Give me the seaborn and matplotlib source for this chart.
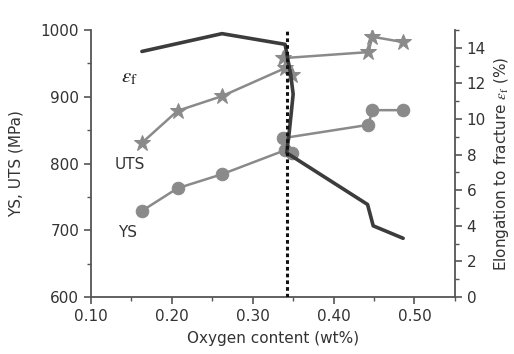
import matplotlib
matplotlib.use("Agg")
import matplotlib.pyplot as plt
import seaborn as sns
import pandas as pd
from matplotlib.ticker import MultipleLocator, FormatStrFormatter

# Data
uts_x = [0.163, 0.207, 0.262, 0.340, 0.349, 0.338, 0.443, 0.448, 0.486]
uts_y = [831, 879, 901, 943, 933, 958, 967, 990, 982]
ys_x = [0.163, 0.207, 0.262, 0.340, 0.349, 0.337, 0.443, 0.448, 0.486]
ys_y = [729, 763, 784, 820, 816, 838, 858, 880, 880]
ef_x = [0.163, 0.262, 0.340, 0.347, 0.350, 0.348, 0.345, 0.342, 0.442, 0.449, 0.486]
ef_y = [13.8, 14.8, 14.2, 12.5, 11.4, 10.5, 9.2, 8.1, 5.2, 4.0, 3.3]
critical_o = 0.342

sns.set_style("ticks")
plt.rcParams['font.family'] = ['DejaVu Sans']
plt.rcParams['mathtext.fontset'] = 'stix'

fig = plt.figure(figsize=(5.14, 3.54), dpi=100)
ax = fig.add_axes([0.177, 0.161, 0.708, 0.754])

gray = "#8a8a8a"
dark = "#3c3c3c"
axcol = "#555555"

uts_df = pd.DataFrame({"x": uts_x, "y": uts_y})
ys_df = pd.DataFrame({"x": ys_x, "y": ys_y})
ef_df = pd.DataFrame({"x": ef_x, "y": ef_y})

sns.lineplot(data=uts_df, x="x", y="y", sort=False, ax=ax, color=gray, lw=1.8,
             marker="*", markersize=12, markeredgecolor=gray, markerfacecolor=gray)
sns.lineplot(data=ys_df, x="x", y="y", sort=False, ax=ax, color=gray, lw=1.8,
             marker="o", markersize=9, markeredgecolor=gray, markerfacecolor=gray)

ax.set_xlim(0.10, 0.55)
ax.set_ylim(600, 1000)
ax.xaxis.set_major_locator(MultipleLocator(0.10))
ax.xaxis.set_minor_locator(MultipleLocator(0.05))
ax.xaxis.set_major_formatter(FormatStrFormatter("%.2f"))
ax.yaxis.set_major_locator(MultipleLocator(100))
ax.yaxis.set_minor_locator(MultipleLocator(50))
ax.set_xlabel("Oxygen content (wt%)", fontsize=11, color="#333333", labelpad=5)
ax.set_ylabel("YS, UTS (MPa)", fontsize=11, color="#333333", labelpad=12)

ax2 = ax.twinx()
sns.lineplot(data=ef_df, x="x", y="y", sort=False, ax=ax2, color=dark, lw=2.6)
ax2.set_ylim(0, 15)
ax2.yaxis.set_major_locator(MultipleLocator(2))
ax2.yaxis.set_minor_locator(MultipleLocator(1))
ax2.set_ylabel(r"Elongation to fracture $\varepsilon_{\mathrm{f}}$ (%)", fontsize=11, color="#333333")
ax2.axvline(critical_o, color="#111111", lw=2.2, ls=(0, (1.2, 1.0)))

for a in (ax, ax2):
    for s in ["left", "right", "bottom"]:
        a.spines[s].set_color(axcol)
        a.spines[s].set_linewidth(1.3)
    a.spines["top"].set_visible(False)
    a.tick_params(which="major", length=5, width=1.2, color=axcol, labelsize=11, labelcolor="#333333", direction="out")
    a.tick_params(which="minor", length=3, width=1.0, color=axcol, direction="out")
ax.spines["right"].set_visible(False)
ax2.spines["left"].set_visible(False)
ax2.spines["bottom"].set_visible(False)

ax.text(0.147, 930, r"$\varepsilon_{\mathrm{f}}$", fontsize=15, color="#222222", ha="center", va="center")
ax.text(0.148, 798, "UTS", fontsize=11, color="#333333", ha="center", va="center")
ax.text(0.145, 697, "YS", fontsize=11, color="#333333", ha="center", va="center")

fig.savefig("out.png", dpi=100)
